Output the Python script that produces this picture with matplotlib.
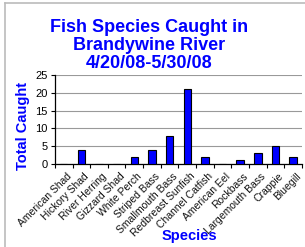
import matplotlib
matplotlib.use("Agg")
import matplotlib.pyplot as plt
from matplotlib.lines import Line2D

species = ["American Shad", "Hickory Shad", "River Herring", "Gizzard Shad",
           "White Perch", "Striped Bass", "Smallmouth Bass", "Redbreast Sunfish",
           "Channel Catfish", "American Eel", "Rockbass", "Largemouth Bass",
           "Crappie", "Bluegill"]
caught = [0, 4, 0, 0, 2, 4, 8, 21, 2, 0, 1, 3, 5, 2]
y_ticks = [0, 5, 10, 15, 20, 25]

plt.rcParams["font.family"] = ["Liberation Sans", "DejaVu Sans"]

fig = plt.figure(figsize=(3.05, 2.47), dpi=100)
ax = fig.add_axes([0.180, 0.336, 0.810, 0.360])

x = range(len(species))
ax.bar(x, caught, width=0.42, color="#0000FF", edgecolor="black", linewidth=0.8, zorder=3)
ax.set_xlim(-0.5, len(species) - 0.5)
ax.set_ylim(0, 25)
ax.set_yticks(y_ticks)
ax.set_yticklabels([str(v) for v in y_ticks], fontsize=8)
ax.yaxis.grid(True, color="#999999", linewidth=0.8, zorder=0)
ax.set_axisbelow(True)

ax.set_xticks([i + 0.5 for i in range(-1, len(species))])
ax.set_xticklabels([])
ax.tick_params(axis="x", length=3, width=0.8, direction="out")
ax.tick_params(axis="y", length=3, width=0.8, direction="out", pad=2)
for i, name in enumerate(species):
    ax.text(i + 0.15, -2.0, name, rotation=45, ha="right", va="top",
            fontsize=7.5, rotation_mode="anchor", color="#111111")

for s in ["top", "right"]:
    ax.spines[s].set_visible(False)
ax.spines["left"].set_linewidth(0.9)
ax.spines["bottom"].set_linewidth(0.9)

fig.text(0.49, 0.815, "Fish Species Caught in\nBrandywine River\n4/20/08-5/30/08",
         ha="center", va="center", fontsize=13, fontweight="bold",
         color="#0000FF", linespacing=1.1)
fig.text(0.075, 0.49, "Total Caught", rotation=90, ha="center", va="center",
         fontsize=10.5, fontweight="bold", color="#0000FF")
fig.text(0.62, 0.045, "Species", ha="center", va="center",
         fontsize=10.5, fontweight="bold", color="#0000FF")

# chart frame (top and left edges visible)
fig.add_artist(Line2D([5 / 305, 5 / 305], [0, 1 - 3 / 247], color="#BBBBBB", linewidth=1.2))
fig.add_artist(Line2D([5 / 305, 1], [1 - 3 / 247, 1 - 3 / 247], color="#BBBBBB", linewidth=1.2))

fig.savefig("out.png", dpi=100)
